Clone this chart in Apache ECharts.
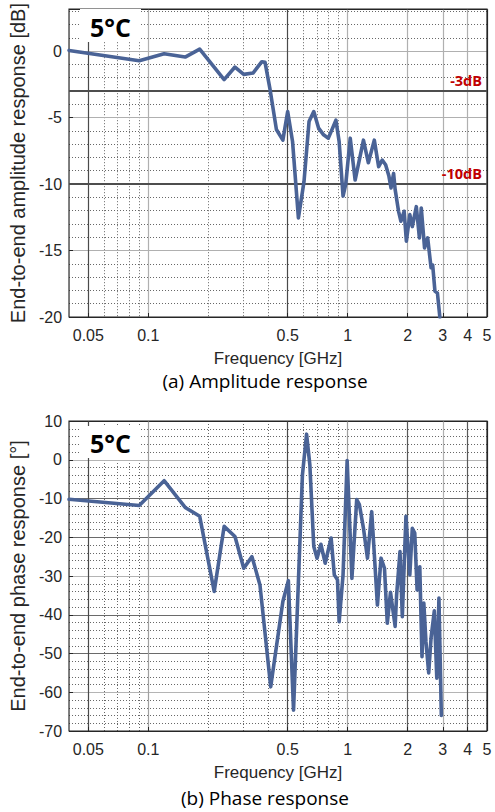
<!DOCTYPE html>
<html><head><meta charset="utf-8">
<script src="https://cdn.jsdelivr.net/npm/echarts@6/dist/echarts.min.js"></script>
<style>html,body{margin:0;padding:0;background:#fff}#c{width:495px;height:812px}</style>
</head><body><div id="c"></div>
<script>
// ---- data (frequency in GHz) ----
const ampFreq = [0.04, 0.09, 0.12, 0.153, 0.181, 0.24, 0.272, 0.301, 0.335, 0.371, 0.385, 0.407, 0.439, 0.473, 0.5, 0.529, 0.566, 0.604, 0.64, 0.676, 0.715, 0.757, 0.8, 0.873, 0.906, 0.948, 0.978, 1.03, 1.09, 1.2, 1.27, 1.36, 1.43, 1.49, 1.55, 1.61, 1.65, 1.70, 1.73, 1.80, 1.85, 1.92, 1.97, 2.05, 2.11, 2.21, 2.29, 2.34, 2.43, 2.52, 2.62, 2.67, 2.74, 2.82, 2.9];
const ampDb = [0.05, -0.73, -0.2, -0.45, 0.15, -2.15, -1.2, -1.75, -1.65, -0.8, -0.85, -2.8, -5.9, -6.7, -4.55, -6.8, -12.55, -9.8, -5.3, -4.55, -5.8, -6.3, -6.55, -5.2, -6.8, -10.9, -10.0, -6.55, -9.7, -6.7, -8.4, -6.7, -8.7, -8.2, -8.55, -9.4, -10.3, -9.2, -10.4, -12.05, -12.8, -12.05, -14.3, -12.3, -13.2, -11.7, -14.05, -11.8, -14.8, -14.05, -16.3, -16.1, -18.05, -18.2, -20];
const phFreq = [0.04, 0.09, 0.12, 0.153, 0.181, 0.214, 0.24, 0.272, 0.301, 0.331, 0.363, 0.411, 0.473, 0.504, 0.535, 0.593, 0.622, 0.646, 0.676, 0.702, 0.734, 0.771, 0.826, 0.857, 0.889, 0.906, 0.948, 0.994, 1.05, 1.11, 1.145, 1.2, 1.257, 1.32, 1.41, 1.47, 1.53, 1.58, 1.64, 1.73, 1.76, 1.83, 1.88, 1.96, 2.05, 2.11, 2.17, 2.23, 2.30, 2.36, 2.41, 2.47, 2.55, 2.62, 2.72, 2.80, 2.87, 2.95];
const phDeg = [-10.2, -11.8, -5.4, -12.3, -14.6, -34, -17.2, -19.8, -28, -25, -32.3, -58.6, -36.6, -31.2, -64.6, -3.9, 6.6, -1.3, -22.4, -25.4, -21.8, -26.7, -20.2, -29.7, -31, -41.8, -29.7, -0.2, -30.6, -10.3, -11.6, -17.7, -25.4, -13.4, -37.5, -25.4, -28, -42.2, -34.2, -43, -34.9, -23.7, -40.5, -14.6, -29.7, -17.7, -18.9, -33.6, -27.6, -50.8, -37, -47, -55, -46, -39, -56.4, -35.7, -66];
const xMajorTicks = [0.05, 0.1, 0.5, 1, 2, 3, 4, 5];
const xMinorTicks = [0.06, 0.07, 0.08, 0.09, 0.2, 0.3, 0.4, 0.6, 0.7, 0.8, 0.9];
const refLevels = [-3, -10];
const refLabels = ['-3dB', '-10dB'];
const panelTags = ['5°C', '5°C'];
const captions = ['(a) Amplitude response', '(b) Phase response'];
const xName = 'Frequency [GHz]';
const yNames = ['End-to-end amplitude response [dB]', 'End-to-end phase response [°]'];

const FONT = 'Arial';
const TXT = '#262626';
const LINE = '#4a6396';

function majorX(gi, colors) {
  return {
    type: 'log', logBase: 10, gridIndex: gi, min: 0.04, max: 5, position: 'bottom', z: 2,
    name: xName, nameLocation: 'middle', nameGap: 33,
    nameTextStyle: {fontFamily: FONT, fontSize: 17, color: TXT},
    axisLine: {show: false, onZero: false},
    axisTick: {show: true, inside: true, length: 4, customValues: xMajorTicks, lineStyle: {color: TXT}},
    axisLabel: {customValues: xMajorTicks, fontFamily: FONT, fontSize: 16, color: TXT, margin: 10, formatter: v => String(v)},
    splitLine: {show: true, lineStyle: {color: colors, width: 1.2}}
  };
}
function minorX(gi) {
  return {
    type: 'log', logBase: 10, gridIndex: gi, min: 0.04, max: 5, position: 'top', z: 1,
    axisLine: {show: false, onZero: false},
    axisTick: {show: false, customValues: xMinorTicks},
    axisLabel: {show: false, customValues: xMinorTicks},
    splitLine: {show: true, lineStyle: {color: '#666', width: 1, type: [1, 2]}}
  };
}
function majorY(gi, min, max, interval, colors, name) {
  return {
    type: 'value', gridIndex: gi, min: min, max: max, interval: interval, position: 'left', z: 2,
    name: name, nameLocation: 'middle', nameGap: 35,
    nameTextStyle: {fontFamily: FONT, fontSize: 20, color: TXT},
    axisLine: {show: false, onZero: false},
    axisTick: {show: true, inside: true, length: 4, lineStyle: {color: TXT}},
    axisLabel: {fontFamily: FONT, fontSize: 16, color: TXT, margin: 7,
      formatter: v => (Math.abs(v % interval) < 1e-9 ? String(v) : '')},
    splitLine: {show: true, lineStyle: {color: colors, width: 1.2}}
  };
}
function minorY(gi, min, max, interval) {
  return {
    type: 'value', gridIndex: gi, min: min, max: max, interval: interval, position: 'right', z: 1,
    axisLine: {show: false, onZero: false}, axisTick: {show: false}, axisLabel: {show: false},
    splitLine: {show: true, lineStyle: {color: '#666', width: 1, type: [1, 2]}}
  };
}

const chart = echarts.init(document.getElementById('c'), null, {renderer: 'svg'});
chart.setOption({
  animation: false,
  backgroundColor: '#fff',
  grid: [
    {left: 59, top: 8, width: 428, height: 309, show: true, borderColor: TXT, borderWidth: 1.2, backgroundColor: 'transparent', z: 3},
    {left: 59, top: 421, width: 428, height: 310, show: true, borderColor: TXT, borderWidth: 1.2, backgroundColor: 'transparent', z: 3}
  ],
  xAxis: [
    majorX(0, ['#4a4a4a', '#b0b0b0', '#4a4a4a', '#b0b0b0', '#b0b0b0', '#b0b0b0', '#b0b0b0', TXT]),
    minorX(0),
    majorX(1, ['#4a4a4a', '#a0a0a0', '#4a4a4a', '#a0a0a0', '#5a5a5a', '#b0b0b0', '#5a5a5a', TXT]),
    minorX(1)
  ],
  yAxis: [
    majorY(0, -20, 3.15, 5, [TXT, '#b0b0b0', '#555', '#b0b0b0', '#b0b0b0', TXT], yNames[0]),
    minorY(0, -20, 3.15, 1),
    majorY(1, -70, 10, 10, [TXT, '#b4b4b4', '#6a6a6a', '#6a6a6a', '#b4b4b4', '#6a6a6a', '#6a6a6a', '#b4b4b4', TXT], yNames[1]),
    minorY(1, -70, 10, 2)
  ],
  series: [
    {
      type: 'line', xAxisIndex: 0, yAxisIndex: 0, symbol: 'none', z: 5,
      data: ampFreq.map((f, i) => [f, ampDb[i]]),
      lineStyle: {color: LINE, width: 3.6, join: 'round', cap: 'round'},
      markLine: {
        silent: true, symbol: ['none', 'none'],
        data: refLevels.map((v, i) => ({yAxis: v, label: {formatter: refLabels[i]}})),
        lineStyle: {color: '#4d4d4d', width: 2.2, type: 'solid'},
        label: {show: true, position: 'insideEndTop', color: '#c00000', fontWeight: 'bold', fontSize: 14.5, fontFamily: 'Open Sans', distance: [5, 3]},
        emphasis: {disabled: true}
      }
    },
    {
      type: 'line', xAxisIndex: 2, yAxisIndex: 2, symbol: 'none', z: 5,
      data: phFreq.map((f, i) => [f, phDeg[i]]),
      lineStyle: {color: LINE, width: 3.6, join: 'round', cap: 'round'}
    }
  ],
  graphic: [
    {type: 'rect', z: 100, shape: {x: 80, y: 9, width: 61, height: 33}, style: {fill: '#fff'}},
    {type: 'text', z: 101, x: 110.5, y: 27, style: {text: panelTags[0], font: 'bold 25px Open Sans', fill: '#000', align: 'center', verticalAlign: 'middle', textAlign: 'center', textVerticalAlign: 'middle'}},
    {type: 'rect', z: 100, shape: {x: 80, y: 426, width: 61, height: 32}, style: {fill: '#fff'}},
    {type: 'text', z: 101, x: 110.5, y: 443, style: {text: panelTags[1], font: 'bold 25px Open Sans', fill: '#000', align: 'center', verticalAlign: 'middle', textAlign: 'center', textVerticalAlign: 'middle'}},
    {type: 'text', z: 101, x: 265, y: 381, style: {text: captions[0], font: '19px Open Sans', fill: '#000', align: 'center', verticalAlign: 'middle', textAlign: 'center', textVerticalAlign: 'middle'}},
    {type: 'text', z: 101, x: 265, y: 798, style: {text: captions[1], font: '19px Open Sans', fill: '#000', align: 'center', verticalAlign: 'middle', textAlign: 'center', textVerticalAlign: 'middle'}}
  ]
});
</script>
</body></html>
